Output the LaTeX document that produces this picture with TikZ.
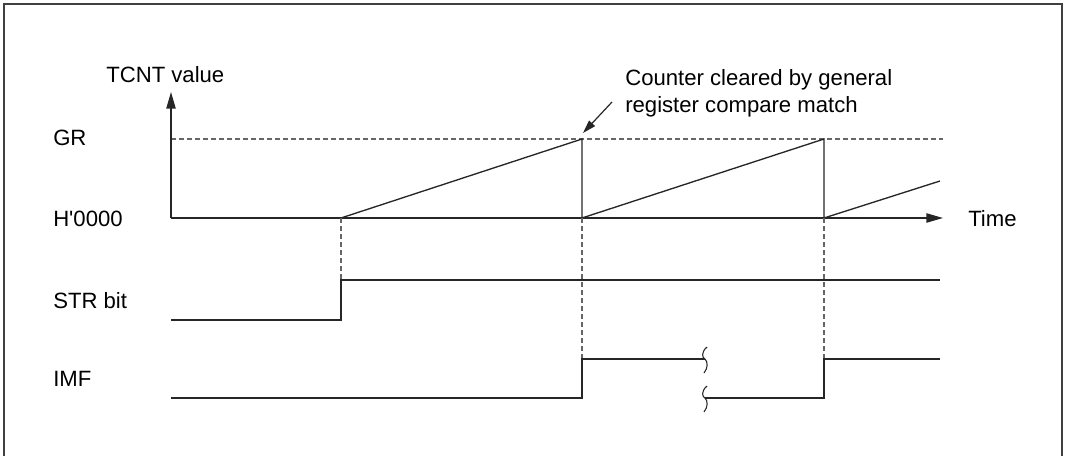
\documentclass[tikz,border=0pt]{standalone}
\usepackage{fontspec}
\setmainfont{Liberation Sans}
\usetikzlibrary{arrows.meta}
\begin{document}
\begin{tikzpicture}[x=0.75pt,y=-0.75pt,
  sig/.style={line width=1pt, color=black!85},
  axis/.style={line width=1pt, color=black!85, -{Triangle[length=12.5pt,width=7pt]}},
  guide/.style={line width=0.9pt, dash pattern=on 3.75pt off 2.25pt, color=black!60},
  lbl/.style={font=\fontsize{16.6}{20}\selectfont, inner sep=0pt, anchor=west}]
\useasboundingbox (0,0) rectangle (1067,456);
\draw[line width=1.4pt, black!75] (4,470) -- (4,4) -- (1062,4) -- (1062,470);
% coordinates
\coordinate (O) at (171,218);
\coordinate (Ytip) at (171,92);
\coordinate (Xtip) at (943,218);
\coordinate (G0) at (171,139);
\coordinate (G1) at (943,139);
\coordinate (S) at (341,218);
\coordinate (P1) at (582,139);
\coordinate (B1) at (582,218);
\coordinate (P2) at (824,139);
\coordinate (B2) at (824,218);
\coordinate (E3) at (940,181);
% labels
\node[lbl] (tcnt) at (106,75) {TCNT value};
\node[lbl] (gr) at (53,138) {GR};
\node[lbl] (h0) at (53,219) {H\textquotesingle 0000};
\node[lbl] (str) at (53,301) {STR bit};
\node[lbl] (imf) at (53,379) {IMF};
\node[lbl] (time) at (968,219) {Time};
\node[lbl, align=left] (note) at (625,93) {Counter cleared by general\\register compare match};
% axes
\draw[guide] (G0) -- (G1);
\draw[axis] (O) -- (Ytip);
\draw[axis] (O) -- (Xtip);
% ramps
\draw[sig] (S) -- (P1) -- (B1) -- (P2) -- (B2) -- (E3);
% annotation arrow
\coordinate (a0) at (612,102);
\draw[line width=0.9pt, black!85, -{Triangle[length=10pt,width=6pt]}] (a0) -- ([shift={(1,-6)}]P1);
% guide verticals
\coordinate (s1) at (341,280);
\coordinate (s2) at (582,359);
\coordinate (s3) at (824,359);
\draw[guide] (S) -- (s1);
\draw[guide] (B1) -- (s2);
\draw[guide] (B2) -- (s3);
% STR bit
\coordinate (str0) at (171,320);
\coordinate (str1) at (341,320);
\coordinate (str2) at (940,280);
\draw[sig] (str0) -- (str1) -- (s1) -- (str2);
% IMF
\coordinate (i0) at (171,398);
\coordinate (i1) at (582,398);
\coordinate (i2) at (705,359);
\coordinate (i3) at (705,398);
\coordinate (i4) at (824,398);
\coordinate (i5) at (940,359);
\draw[sig] (i0) -- (i1) -- (s2) -- (i2);
\draw[sig] (i3) -- (i4) -- (s3) -- (i5);
% break marks
\draw[line width=0.8pt, black!85] (707,347) .. controls (701,352) and (702,358) .. (i2) .. controls (708,362) and (708,368) .. (704,373);
\draw[line width=0.8pt, black!85] (707,386) .. controls (701,391) and (702,397) .. (i3) .. controls (708,401) and (708,407) .. (704,412);
\end{tikzpicture}
\end{document}
